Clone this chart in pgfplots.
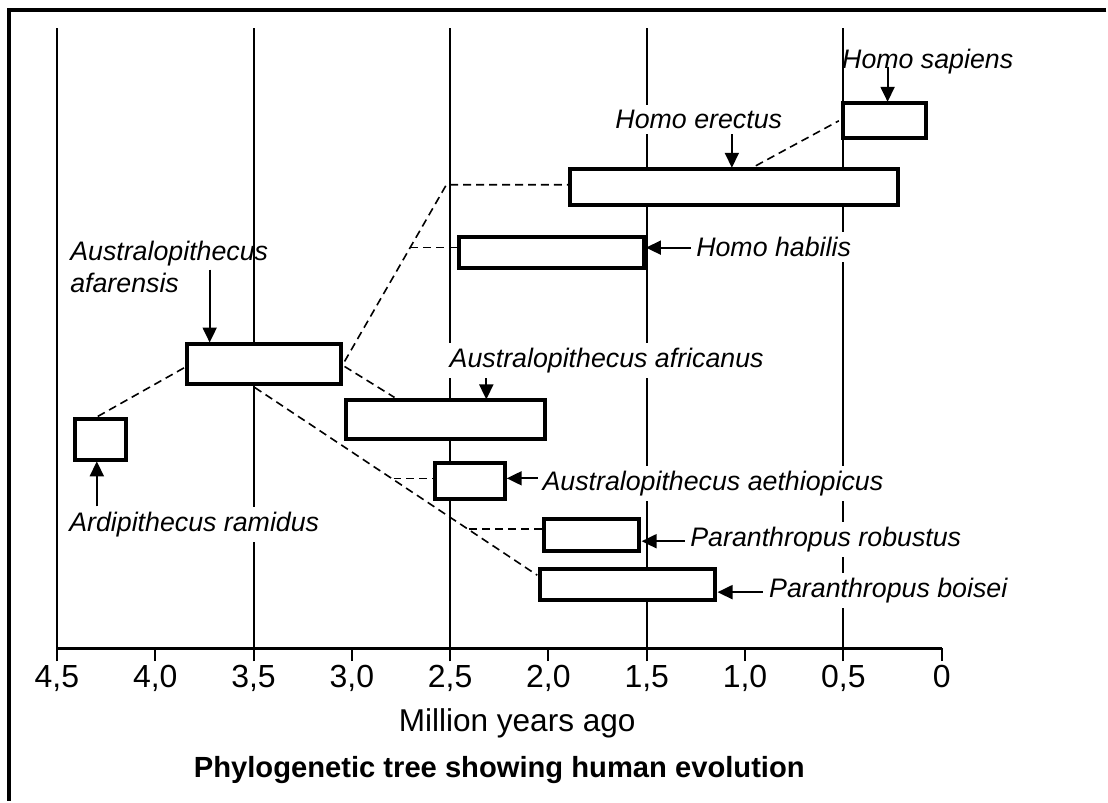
\documentclass[border=0pt]{standalone}
\usepackage{pgfplots}
\pgfplotsset{compat=1.18}
\usepackage{fontspec}
\setmainfont{Liberation Sans}
\usetikzlibrary{arrows.meta}

\begin{document}
\begin{tikzpicture}
\begin{axis}[
  scale only axis, width=443pt, height=310.5pt,
  xmin=0, xmax=4.5, x dir=reverse,
  ymin=-649, ymax=-28,
  axis x line*=bottom, axis y line=none,
  axis line style={black, line width=1.5pt, -},
  clip=false,
  xtick={0,0.5,1,1.5,2,2.5,3,3.5,4,4.5},
  xticklabels={0,{0,5},{1,0},{1,5},{2,0},{2,5},{3,0},{3,5},{4,0},{4,5}},
  xtick pos=bottom, tick align=outside, major tick length=6.5pt,
  xtick style={black, line width=1pt},
  xticklabel style={font=\fontsize{16}{18}\selectfont, inner sep=2pt},
  extra x ticks={0.5,1.5,2.5,3.5,4.5},
  extra x tick labels={},
  extra x tick style={grid=major, major grid style={black, line width=1pt}},
  ytick=\empty,
]
% canvas bounds and frame
\path (axis cs:4.7895,0) rectangle (axis cs:-0.8377,-802);
\draw[line width=1.65pt, line join=miter] (axis cs:-0.8377,-10) -- (axis cs:4.7438,-10) -- (axis cs:4.7438,-802);

% axis label and title
\node[anchor=base, inner sep=0pt, font=\fontsize{15.8}{18}\selectfont] at (axis cs:2.159,-733) {Million years ago};
\node[anchor=base, inner sep=0pt, font=\fontsize{14.6}{18}\selectfont\bfseries] at (axis cs:2.25,-779) {Phylogenetic tree showing human evolution};

% dashed connections
\pgfplotsset{dsh/.style={black, line width=0.8pt, dash pattern=on 4pt off 2.5pt, forget plot}}
\addplot[dsh] coordinates {(4.292,-417) (3.850,-368)};
\addplot[dsh] coordinates {(3.037,-362) (2.519,-185) (1.900,-185)};
\addplot[dsh] coordinates {(2.702,-248) (2.463,-248)};
\addplot[dsh] coordinates {(3.037,-367) (2.783,-398)};
\addplot[dsh] coordinates {(3.494,-388) (2.057,-576)};
\addplot[dsh] coordinates {(2.788,-479) (2.585,-479)};
\addplot[dsh] coordinates {(2.402,-530) (2.032,-530)};
\addplot[dsh] coordinates {(0.945,-166) (0.523,-121)};

% species time ranges (boxes)
\pgfplotsset{bx/.style={draw=black, fill=white, line width=2pt, forget plot}}
\addplot[bx] coordinates {(4.409,-420) (4.150,-420) (4.150,-461) (4.409,-461)} --cycle;
\addplot[bx] coordinates {(3.840,-344) (3.053,-344) (3.053,-385) (3.840,-385)} --cycle;
\addplot[bx] coordinates {(3.032,-401) (2.017,-401) (2.017,-440) (3.032,-440)} --cycle;
\addplot[bx] coordinates {(2.575,-464) (2.220,-464) (2.220,-500) (2.575,-500)} --cycle;
\addplot[bx] coordinates {(2.022,-520) (1.539,-520) (1.539,-552) (2.022,-552)} --cycle;
\addplot[bx] coordinates {(2.042,-570) (1.153,-570) (1.153,-601) (2.042,-601)} --cycle;
\addplot[bx] coordinates {(2.453,-237) (1.514,-237) (1.514,-268) (2.453,-268)} --cycle;
\addplot[bx] coordinates {(1.890,-169) (0.224,-169) (0.224,-205) (1.890,-205)} --cycle;
\addplot[bx] coordinates {(0.503,-103) (0.082,-103) (0.082,-138) (0.503,-138)} --cycle;

% arrows
\tikzset{arr/.style={black, line width=1pt, -{Triangle[length=7.5pt,width=7pt]}}}
\draw[arr] (axis cs:0.275,-67) -- (axis cs:0.275,-102);
\draw[arr] (axis cs:1.067,-131) -- (axis cs:1.067,-168);
\draw[arr] (axis cs:1.250,-248) -- (axis cs:1.504,-248);
\draw[arr] (axis cs:3.723,-270) -- (axis cs:3.723,-343);
\draw[arr] (axis cs:2.316,-372) -- (axis cs:2.316,-400);
\draw[arr] (axis cs:2.022,-479) -- (axis cs:2.212,-479);
\draw[arr] (axis cs:1.280,-542) -- (axis cs:1.526,-542);
\draw[arr] (axis cs:0.909,-593) -- (axis cs:1.140,-593);
\draw[arr] (axis cs:4.297,-507) -- (axis cs:4.297,-462);

% labels
\tikzset{lab/.style={anchor=base west, inner sep=0pt, font=\fontsize{13.4}{15}\selectfont\itshape},
         labw/.style={lab, fill=white, inner sep=2.5pt, xshift=-2.5pt}}
\node[lab]  at (axis cs:0.508,-69)  {Homo sapiens};
\node[labw] at (axis cs:1.661,-129) {Homo erectus};
\node[labw] at (axis cs:1.250,-257) {Homo habilis};
\node[lab]  at (axis cs:4.434,-261) {Australopithecus};
\node[lab]  at (axis cs:4.434,-293) {afarensis};
\node[labw] at (axis cs:2.504,-368) {Australopithecus africanus};
\node[labw] at (axis cs:2.032,-491) {Australopithecus aethiopicus};
\node[labw] at (axis cs:1.280,-547) {Paranthropus robustus};
\node[labw] at (axis cs:0.879,-598) {Paranthropus boisei};
\node[labw] at (axis cs:4.439,-532) {Ardipithecus ramidus};
\end{axis}
\end{tikzpicture}
\end{document}
